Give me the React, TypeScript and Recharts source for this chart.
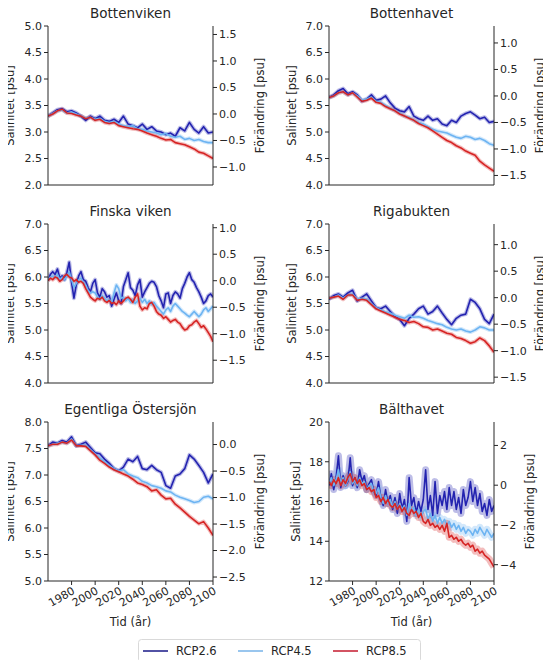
import { ComposedChart, Line, XAxis, YAxis } from 'recharts'

// Salthalt i Östersjöns delbassänger, RCP-scenarier
// Värden (var 4:e resp. var 2:a år)

const years4 = [1960, 1964, 1968, 1972, 1976, 1980, 1984, 1988, 1992, 1996, 2000, 2004, 2008, 2012, 2016, 2020, 2024, 2028, 2032, 2036, 2040, 2044, 2048, 2052, 2056, 2060, 2064, 2068, 2072, 2076, 2080, 2084, 2088, 2092, 2096, 2100]
const years2 = [1960, 1962, 1964, 1966, 1968, 1970, 1972, 1974, 1976, 1978, 1980, 1982, 1984, 1986, 1988, 1990, 1992, 1994, 1996, 1998, 2000, 2002, 2004, 2006, 2008, 2010, 2012, 2014, 2016, 2018, 2020, 2022, 2024, 2026, 2028, 2030, 2032, 2034, 2036, 2038, 2040, 2042, 2044, 2046, 2048, 2050, 2052, 2054, 2056, 2058, 2060, 2062, 2064, 2066, 2068, 2070, 2072, 2074, 2076, 2078, 2080, 2082, 2084, 2086, 2088, 2090, 2092, 2094, 2096, 2098, 2100]
const xTicks = [1980, 2000, 2020, 2040, 2060, 2080, 2100]

// Bottenviken
const bvRcp26 = [3.30, 3.36, 3.42, 3.44, 3.38, 3.40, 3.36, 3.30, 3.22, 3.30, 3.25, 3.30, 3.22, 3.20, 3.24, 3.18, 3.30, 3.15, 3.12, 3.08, 3.15, 3.05, 3.10, 3.02, 3.00, 2.95, 2.98, 2.92, 3.08, 3.02, 3.18, 3.05, 2.98, 3.10, 2.98, 3.00]
const bvRcp45 = [3.30, 3.35, 3.40, 3.42, 3.36, 3.38, 3.34, 3.30, 3.26, 3.28, 3.24, 3.26, 3.20, 3.18, 3.20, 3.15, 3.12, 3.10, 3.12, 3.06, 3.05, 3.02, 3.00, 2.98, 2.95, 2.97, 2.92, 2.90, 2.92, 2.86, 2.88, 2.84, 2.86, 2.82, 2.80, 2.80]
const bvRcp85 = [3.30, 3.34, 3.40, 3.43, 3.36, 3.35, 3.32, 3.30, 3.25, 3.28, 3.22, 3.24, 3.18, 3.16, 3.18, 3.12, 3.10, 3.08, 3.06, 3.05, 3.02, 2.98, 2.95, 2.92, 2.88, 2.85, 2.86, 2.80, 2.78, 2.76, 2.72, 2.68, 2.62, 2.60, 2.55, 2.50]

// Bottenhavet
const bhRcp26 = [5.65, 5.70, 5.78, 5.82, 5.72, 5.76, 5.70, 5.58, 5.62, 5.70, 5.60, 5.62, 5.68, 5.55, 5.45, 5.40, 5.38, 5.48, 5.30, 5.25, 5.22, 5.30, 5.22, 5.25, 5.15, 5.12, 5.22, 5.18, 5.30, 5.35, 5.38, 5.32, 5.25, 5.28, 5.18, 5.20]
const bhRcp45 = [5.65, 5.68, 5.74, 5.76, 5.70, 5.74, 5.68, 5.60, 5.62, 5.66, 5.58, 5.56, 5.50, 5.45, 5.40, 5.36, 5.30, 5.28, 5.22, 5.18, 5.15, 5.10, 5.05, 5.02, 5.00, 4.98, 4.94, 4.90, 4.88, 4.92, 4.90, 4.86, 4.88, 4.84, 4.78, 4.75]
const bhRcp85 = [5.65, 5.68, 5.74, 5.76, 5.70, 5.74, 5.66, 5.58, 5.60, 5.64, 5.56, 5.54, 5.48, 5.44, 5.40, 5.34, 5.30, 5.26, 5.22, 5.16, 5.12, 5.08, 5.02, 4.96, 4.90, 4.84, 4.80, 4.74, 4.70, 4.64, 4.60, 4.56, 4.45, 4.38, 4.32, 4.26]

// Finska viken (var 2:a år)
const fvRcp26 = [5.93, 6.05, 6.10, 6.05, 6.15, 5.98, 6.02, 5.95, 6.08, 6.28, 5.90, 5.60, 5.85, 6.02, 6.10, 5.95, 5.92, 5.80, 5.72, 5.88, 5.95, 5.70, 5.62, 5.78, 5.72, 5.62, 5.65, 5.45, 5.58, 5.70, 5.55, 5.50, 5.82, 5.95, 6.08, 5.80, 5.75, 5.65, 5.85, 5.95, 5.62, 5.72, 5.80, 5.88, 5.92, 5.90, 5.82, 5.65, 5.55, 5.42, 5.68, 5.70, 5.50, 5.65, 5.72, 5.68, 5.60, 5.78, 5.88, 6.00, 6.08, 5.95, 5.90, 5.80, 5.72, 5.62, 5.50, 5.55, 5.65, 5.68, 5.62]
const fvRcp45 = [5.95, 6.00, 6.02, 5.98, 6.05, 5.95, 6.00, 5.95, 6.02, 6.10, 5.95, 5.80, 5.88, 5.95, 5.98, 5.90, 5.85, 5.75, 5.70, 5.72, 5.70, 5.62, 5.58, 5.65, 5.60, 5.55, 5.58, 5.52, 5.70, 5.85, 5.78, 5.60, 5.62, 5.55, 5.60, 5.52, 5.58, 5.50, 5.55, 5.60, 5.52, 5.58, 5.50, 5.55, 5.48, 5.52, 5.45, 5.40, 5.35, 5.30, 5.38, 5.42, 5.35, 5.45, 5.50, 5.45, 5.40, 5.35, 5.32, 5.28, 5.25, 5.30, 5.35, 5.30, 5.25, 5.30, 5.38, 5.42, 5.35, 5.40, 5.45]
const fvRcp85 = [5.93, 5.98, 5.95, 6.00, 5.98, 5.92, 5.95, 6.02, 6.05, 6.00, 5.98, 5.92, 5.95, 5.90, 5.92, 5.88, 5.78, 5.70, 5.62, 5.58, 5.55, 5.60, 5.58, 5.62, 5.55, 5.52, 5.56, 5.50, 5.52, 5.48, 5.55, 5.50, 5.55, 5.60, 5.62, 5.58, 5.52, 5.62, 5.68, 5.45, 5.38, 5.42, 5.40, 5.50, 5.52, 5.45, 5.35, 5.30, 5.28, 5.22, 5.25, 5.20, 5.15, 5.18, 5.20, 5.15, 5.12, 5.05, 5.00, 5.02, 5.08, 5.10, 5.15, 5.18, 5.12, 5.05, 5.08, 5.02, 4.95, 4.88, 4.78]

// Rigabukten
const rbRcp26 = [5.58, 5.65, 5.68, 5.62, 5.70, 5.75, 5.55, 5.62, 5.68, 5.55, 5.42, 5.40, 5.45, 5.35, 5.25, 5.20, 5.08, 5.22, 5.30, 5.40, 5.45, 5.30, 5.35, 5.45, 5.32, 5.20, 5.10, 5.22, 5.28, 5.30, 5.58, 5.52, 5.40, 5.20, 5.12, 5.30]
const rbRcp45 = [5.60, 5.62, 5.66, 5.60, 5.66, 5.68, 5.58, 5.60, 5.58, 5.50, 5.42, 5.38, 5.34, 5.32, 5.28, 5.25, 5.22, 5.28, 5.24, 5.25, 5.22, 5.18, 5.15, 5.12, 5.10, 5.05, 5.02, 5.00, 5.02, 4.98, 4.96, 5.00, 5.06, 5.04, 5.00, 5.00]
const rbRcp85 = [5.60, 5.62, 5.64, 5.58, 5.66, 5.66, 5.56, 5.58, 5.56, 5.48, 5.40, 5.36, 5.32, 5.28, 5.24, 5.20, 5.18, 5.14, 5.16, 5.12, 5.06, 5.05, 5.00, 5.02, 4.98, 4.94, 4.92, 4.86, 4.84, 4.80, 4.75, 4.78, 4.85, 4.80, 4.70, 4.58]

// Egentliga Östersjön
const eoRcp26 = [7.55, 7.62, 7.60, 7.65, 7.62, 7.72, 7.55, 7.58, 7.62, 7.52, 7.42, 7.40, 7.30, 7.22, 7.12, 7.08, 7.15, 7.30, 7.25, 7.35, 7.12, 7.10, 7.18, 7.10, 7.05, 6.80, 6.75, 6.98, 7.02, 7.12, 7.38, 7.30, 7.18, 7.05, 6.85, 7.02]
const eoRcp45 = [7.55, 7.58, 7.60, 7.62, 7.60, 7.68, 7.55, 7.56, 7.56, 7.48, 7.40, 7.32, 7.25, 7.18, 7.12, 7.08, 7.10, 7.02, 6.98, 6.95, 6.88, 6.85, 6.80, 6.78, 6.75, 6.70, 6.68, 6.62, 6.58, 6.55, 6.52, 6.48, 6.50, 6.58, 6.60, 6.55]
const eoRcp85 = [7.55, 7.58, 7.58, 7.62, 7.60, 7.66, 7.55, 7.55, 7.54, 7.46, 7.38, 7.28, 7.22, 7.15, 7.10, 7.06, 7.02, 6.98, 6.92, 6.85, 6.82, 6.78, 6.70, 6.72, 6.62, 6.55, 6.56, 6.45, 6.38, 6.30, 6.22, 6.15, 6.08, 6.12, 6.00, 5.86]

// Bälthavet (var 2:a år)
const btRcp26 = [16.8, 17.4, 16.6, 17.2, 18.3, 16.7, 17.3, 16.8, 17.0, 18.2, 16.8, 17.2, 16.7, 17.6, 17.0, 17.3, 16.6, 16.9, 17.1, 16.5, 16.3, 17.0, 16.2, 15.8, 16.6, 15.9, 16.3, 15.6, 16.2, 15.4, 16.4, 15.6, 16.1, 15.0, 17.2, 15.8, 16.2, 15.4, 16.0, 15.5, 16.1, 17.6, 15.6, 16.3, 15.3, 17.0, 15.4, 16.3, 15.8, 16.5, 15.6, 16.7, 15.8, 16.5, 15.6, 16.2, 15.4, 16.6, 15.8, 16.2, 17.0, 16.0, 16.7, 15.8, 16.4, 15.5, 15.9, 15.3, 16.1, 15.5, 15.8]
const btRcp45 = [16.9, 17.2, 16.8, 17.1, 17.6, 16.9, 17.2, 16.8, 17.1, 17.5, 16.9, 17.1, 16.8, 17.2, 16.9, 17.0, 16.6, 16.8, 16.9, 16.5, 16.4, 16.7, 16.2, 15.9, 16.3, 15.9, 16.1, 15.7, 16.0, 15.6, 15.9, 15.6, 15.8, 15.3, 15.9, 15.5, 15.7, 15.3, 15.6, 15.2, 15.5, 15.6, 15.1, 15.4, 15.0, 15.3, 14.9, 15.2, 14.9, 15.1, 14.8, 15.0, 14.7, 14.9, 14.6, 14.8, 14.5, 14.7, 14.4, 14.6, 14.5, 14.3, 14.6, 14.4, 14.7, 14.5, 14.3, 14.6, 14.4, 14.2, 14.4]
const btRcp85 = [17.0, 16.8, 17.1, 16.9, 17.2, 16.8, 17.1, 16.9, 17.2, 17.4, 17.0, 17.2, 16.9, 17.1, 16.8, 16.9, 16.6, 16.7, 16.5, 16.6, 16.2, 16.3, 16.0, 16.2, 15.9, 16.1, 15.8, 15.7, 15.9, 15.6, 15.8, 15.5, 15.7, 15.4, 15.3, 15.6, 15.4, 15.5, 15.2, 15.4, 15.0, 14.9, 15.1, 14.8, 14.9, 14.7, 14.8, 14.6, 14.8, 14.5, 14.9, 14.2, 14.3, 14.1, 14.2, 14.0, 14.1, 13.9, 13.8, 13.9, 13.7, 13.8, 13.5, 13.6, 13.4, 13.5, 13.3, 13.2, 13.1, 12.9, 12.7]

const C26 = '#2323b0'
const C45 = '#6db4f2'
const C85 = '#d62424'
const TXT = '#262626'
const FONT = '"DejaVu Sans", sans-serif'

const PLOT_W = 165
const PLOT_H = 159
const AXIS_W = 45
const PAD_TOP = 10

interface PanelCfg {
  title: string
  left: number
  top: number
  yDomain: [number, number]
  yTicks: number[]
  offset: number
  rTicks: number[]
  decimals: number
  years: number[]
  rcp26: number[]
  rcp45: number[]
  rcp85: number[]
  halo: number
  bottom?: boolean
  yLabelX: number
  rLabelX: number
}

const panels: PanelCfg[] = [
  { title: 'Bottenviken', left: 48, top: 26, yDomain: [2, 5], yTicks: [2, 2.5, 3, 3.5, 4, 4.5, 5], offset: 3.34, rTicks: [-1, -0.5, 0, 0.5, 1, 1.5], decimals: 1, years: years4, rcp26: bvRcp26, rcp45: bvRcp45, rcp85: bvRcp85, halo: 4, yLabelX: 10, rLabelX: 260 },
  { title: 'Bottenhavet', left: 329, top: 26, yDomain: [4, 7], yTicks: [4, 4.5, 5, 5.5, 6, 6.5, 7], offset: 5.68, rTicks: [-1.5, -1, -0.5, 0, 0.5, 1], decimals: 1, years: years4, rcp26: bhRcp26, rcp45: bhRcp45, rcp85: bhRcp85, halo: 4, yLabelX: 292, rLabelX: 540 },
  { title: 'Finska viken', left: 48, top: 224, yDomain: [4, 7], yTicks: [4, 4.5, 5, 5.5, 6, 6.5, 7], offset: 5.93, rTicks: [-1.5, -1, -0.5, 0, 0.5, 1], decimals: 1, years: years2, rcp26: fvRcp26, rcp45: fvRcp45, rcp85: fvRcp85, halo: 4, yLabelX: 10, rLabelX: 260 },
  { title: 'Rigabukten', left: 329, top: 224, yDomain: [4, 7], yTicks: [4, 4.5, 5, 5.5, 6, 6.5, 7], offset: 5.61, rTicks: [-1.5, -1, -0.5, 0, 0.5, 1], decimals: 1, years: years4, rcp26: rbRcp26, rcp45: rbRcp45, rcp85: rbRcp85, halo: 4, yLabelX: 292, rLabelX: 540 },
  { title: 'Egentliga Östersjön', left: 48, top: 422, yDomain: [5, 8], yTicks: [5, 5.5, 6, 6.5, 7, 7.5, 8], offset: 7.575, rTicks: [-2.5, -2, -1.5, -1, -0.5, 0], decimals: 1, years: years4, rcp26: eoRcp26, rcp45: eoRcp45, rcp85: eoRcp85, halo: 4, bottom: true, yLabelX: 10, rLabelX: 260 },
  { title: 'Bälthavet', left: 329, top: 422, yDomain: [12, 20], yTicks: [12, 14, 16, 18, 20], offset: 16.82, rTicks: [-4, -2, 0, 2], decimals: 0, years: years2, rcp26: btRcp26, rcp45: btRcp45, rcp85: btRcp85, halo: 7, bottom: true, yLabelX: 296, rLabelX: 530 },
]

const fmt = (v: number, d: number) => v.toFixed(d).replace('-', '\u2212')

const YearTick = (props: any) => {
  const { x, y, payload } = props
  return (
    <text x={x + 4} y={y + 6} transform={`rotate(-30, ${x + 4}, ${y + 6})`} textAnchor="end" fontSize={11} fill={TXT} fontFamily={FONT}>
      {payload.value}
    </text>
  )
}

function PanelChart({ p }: { p: PanelCfg }) {
  const data = p.years.map((yr, i) => ({ year: yr, r26: p.rcp26[i], r45: p.rcp45[i], r85: p.rcp85[i] }))
  const rDomain: [number, number] = [p.yDomain[0] - p.offset, p.yDomain[1] - p.offset]
  const series: Array<[string, string]> = [['r26', C26], ['r45', C45], ['r85', C85]]
  const tickStyle = { fontSize: 11, fill: TXT, fontFamily: FONT }

  return (
    <div style={{ position: 'absolute', left: p.left - AXIS_W, top: p.top - PAD_TOP }}>
      <ComposedChart width={PLOT_W + 2 * AXIS_W} height={PLOT_H + 42 + PAD_TOP} data={data} margin={{ top: PAD_TOP, right: 0, bottom: 0, left: 0 }}>
        <XAxis
          dataKey="year"
          type="number"
          domain={[1960, 2100]}
          ticks={xTicks}
          interval={0}
          allowDataOverflow
          height={42}
          tickSize={4}
          stroke={TXT}
          tick={p.bottom ? <YearTick /> : false}
          tickLine={{ stroke: TXT }}
        />
        <XAxis xAxisId="top" orientation="top" dataKey="year" type="number" domain={[1960, 2100]} height={0} tick={false} tickLine={false} stroke={TXT} />
        <YAxis
          yAxisId="left"
          domain={p.yDomain}
          ticks={p.yTicks}
          interval={0}
          allowDataOverflow
          width={AXIS_W}
          tickSize={4}
          stroke={TXT}
          tick={tickStyle}
          tickFormatter={(v: number) => fmt(v, p.decimals)}
        />
        <YAxis
          yAxisId="right"
          orientation="right"
          domain={rDomain}
          ticks={p.rTicks}
          interval={0}
          allowDataOverflow
          width={AXIS_W}
          tickSize={4}
          stroke={TXT}
          tick={tickStyle}
          tickFormatter={(v: number) => fmt(v, p.decimals)}
        />
        {series.map(([k, c]) => (
          <Line key={k + 'h'} yAxisId="left" dataKey={k} stroke={c} strokeOpacity={0.3} strokeWidth={p.halo} dot={false} isAnimationActive={false} strokeLinejoin="round" />
        ))}
        {series.map(([k, c]) => (
          <Line key={k} yAxisId="left" dataKey={k} stroke={c} strokeWidth={1.6} dot={false} isAnimationActive={false} strokeLinejoin="round" />
        ))}
      </ComposedChart>
    </div>
  )
}

// titlar, axeltexter och legend i ett gemensamt lager ovanpå
function TextLayer() {
  const legend = [
    { label: 'RCP2.6', color: '#26268f', x: 143 },
    { label: 'RCP4.5', color: '#7fb8ea', x: 238 },
    { label: 'RCP8.5', color: '#c8283a', x: 333 },
  ]
  return (
    <svg width={551} height={668} style={{ position: 'absolute', left: 0, top: 0, pointerEvents: 'none' }} fontFamily={FONT} fill={TXT}>
      {panels.map((p) => {
        const cx = p.left + PLOT_W / 2
        const cy = p.top + PLOT_H / 2
        return (
          <g key={p.title}>
            <text x={cx} y={p.top - 8} textAnchor="middle" fontSize={13.5}>{p.title}</text>
            <text x={p.yLabelX} y={cy} textAnchor="middle" dominantBaseline="central" fontSize={11.5} transform={`rotate(-90, ${p.yLabelX}, ${cy})`}>
              Salinitet [psu]
            </text>
            <text x={p.rLabelX} y={cy} textAnchor="middle" dominantBaseline="central" fontSize={11.5} transform={`rotate(-90, ${p.rLabelX}, ${cy})`}>
              Förändring [psu]
            </text>
            {p.bottom && (
              <text x={cx} y={626} textAnchor="middle" fontSize={11.5}>Tid (år)</text>
            )}
          </g>
        )
      })}
      <rect x={138.5} y={639.5} width={282} height={23} rx={3} fill="#fff" stroke="#d9d9d9" />
      {legend.map((l) => (
        <g key={l.label}>
          <line x1={l.x} y1={651} x2={l.x + 25} y2={651} stroke={l.color} strokeWidth={1.6} />
          <text x={l.x + 33} y={655} fontSize={11.5}>{l.label}</text>
        </g>
      ))}
    </svg>
  )
}

export default function App() {
  return (
    <div style={{ position: 'relative', width: 551, height: 668, margin: -8, background: '#fff', overflow: 'hidden' }}>
      {panels.map((p) => (
        <PanelChart key={p.title} p={p} />
      ))}
      <TextLayer />
    </div>
  )
}
